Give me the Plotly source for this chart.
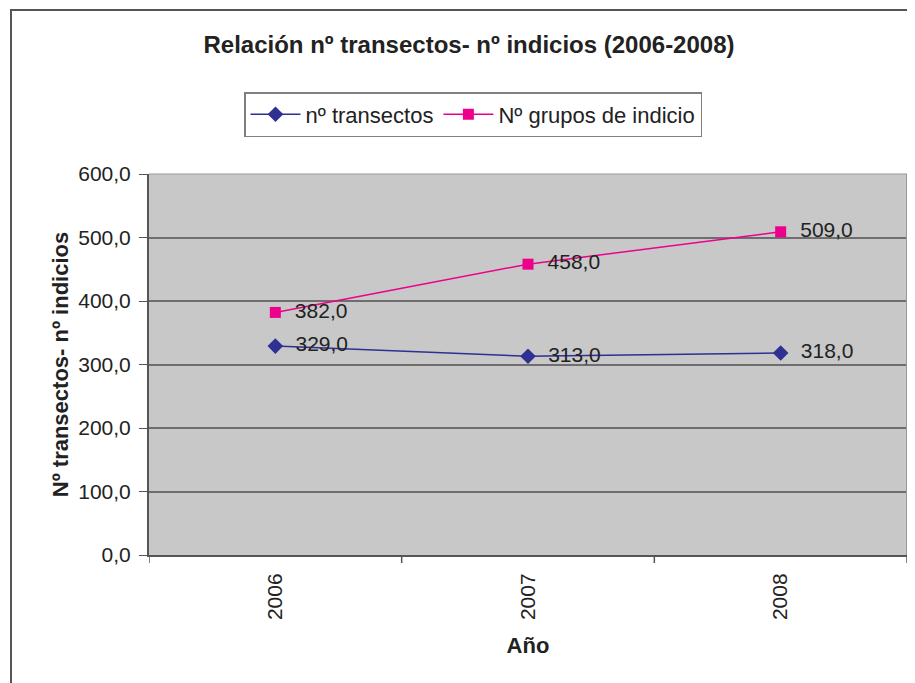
import plotly.graph_objects as go

years = ["2006", "2007", "2008"]
transectos = [329.0, 313.0, 318.0]
grupos = [382.0, 458.0, 509.0]
y_ticks = [0, 100, 200, 300, 400, 500, 600]

# page body has 8px margin; figure coordinates are offset by 8
W, H = 907, 675
L, R, T, B = 141, 8, 166, 128

def fmt(v):
    return "\u00a0\u00a0" + f"{v:.1f}".replace(".", ",")

fig = go.Figure()
fig.add_trace(go.Scatter(
    x=years, y=transectos, name="nº transectos", mode="lines+markers+text",
    line=dict(color="#2E3192", width=1.5),
    marker=dict(symbol="diamond", size=12, color="#2E3192"),
    text=[fmt(v) for v in transectos],
    textposition="middle right", textfont=dict(family="Arial", size=21, color="#222"),
    cliponaxis=False,
))
fig.add_trace(go.Scatter(
    x=years, y=grupos, name="Nº grupos de indicio", mode="lines+markers+text",
    line=dict(color="#EC008C", width=1.5),
    marker=dict(symbol="square", size=11, color="#EC008C"),
    text=[fmt(v) for v in grupos],
    textposition="middle right", textfont=dict(family="Arial", size=21, color="#222"),
    cliponaxis=False,
))

fig.update_layout(
    width=W, height=H,
    margin=dict(l=L, r=R, t=T, b=B),
    paper_bgcolor="white", plot_bgcolor="#C8C8C8",
    separators=",.",
    font=dict(family="Arial", size=21, color="#222"),
    title=dict(text="<b>Relación nº transectos- nº indicios (2006-2008)</b>",
               x=(461) / W, xanchor="center", y=1 - 37 / H, yanchor="middle",
               font=dict(family="Arial", size=24, color="#222")),
    showlegend=True,
    legend=dict(orientation="h", x=(465) / W, xref="container", xanchor="center",
                y=1 - 84 / H, yref="container", yanchor="top",
                bordercolor="#808080", borderwidth=1.5, bgcolor="white",
                font=dict(family="Arial", size=22, color="#222"),
                itemwidth=50, tracegroupgap=0),
    xaxis=dict(type="category", range=[-0.5, 2.5], showgrid=False,
               showline=True, linecolor="#555", linewidth=2,
               ticks="", tickangle=-90, tickfont=dict(size=21),
               ticklabelstandoff=8,
               title=dict(text="<b>Año</b>", font=dict(size=22), standoff=18)),
    yaxis=dict(range=[0, 600], tickvals=y_ticks, tickformat=".1f",
               showgrid=True, gridcolor="#6E6E6E", gridwidth=1.5,
               showline=True, linecolor="#555", linewidth=2,
               ticks="outside", ticklen=8, tickcolor="#555",
               ticklabelstandoff=4,
               zeroline=False, tickfont=dict(size=21),
               title=dict(text="<b>Nº transectos- nº indicios</b>", font=dict(size=22), standoff=4)),
)

pw, ph = W - L - R, H - T - B
# category boundary tick marks on x axis
for b in [-0.5, 0.5, 1.5, 2.5]:
    fig.add_shape(type="line", xref="x", yref="paper", x0=b, x1=b, y0=0, y1=-8 / ph,
                  line=dict(color="#555", width=1.5))
# plot area right/top border
fig.add_shape(type="line", xref="paper", yref="paper", x0=1, x1=1, y0=0, y1=1,
              line=dict(color="#999", width=2))
fig.add_shape(type="line", xref="paper", yref="paper", x0=0, x1=1, y0=1, y1=1,
              line=dict(color="#999", width=1))
# outer frame
fig.add_shape(type="rect", xref="paper", yref="paper",
              x0=(3 - L) / pw, x1=(930 - L) / pw,
              y0=(B - 700) / ph, y1=(H - 2 - B) / ph,
              line=dict(color="#555", width=2), layer="below")

fig.write_html("out.html")
